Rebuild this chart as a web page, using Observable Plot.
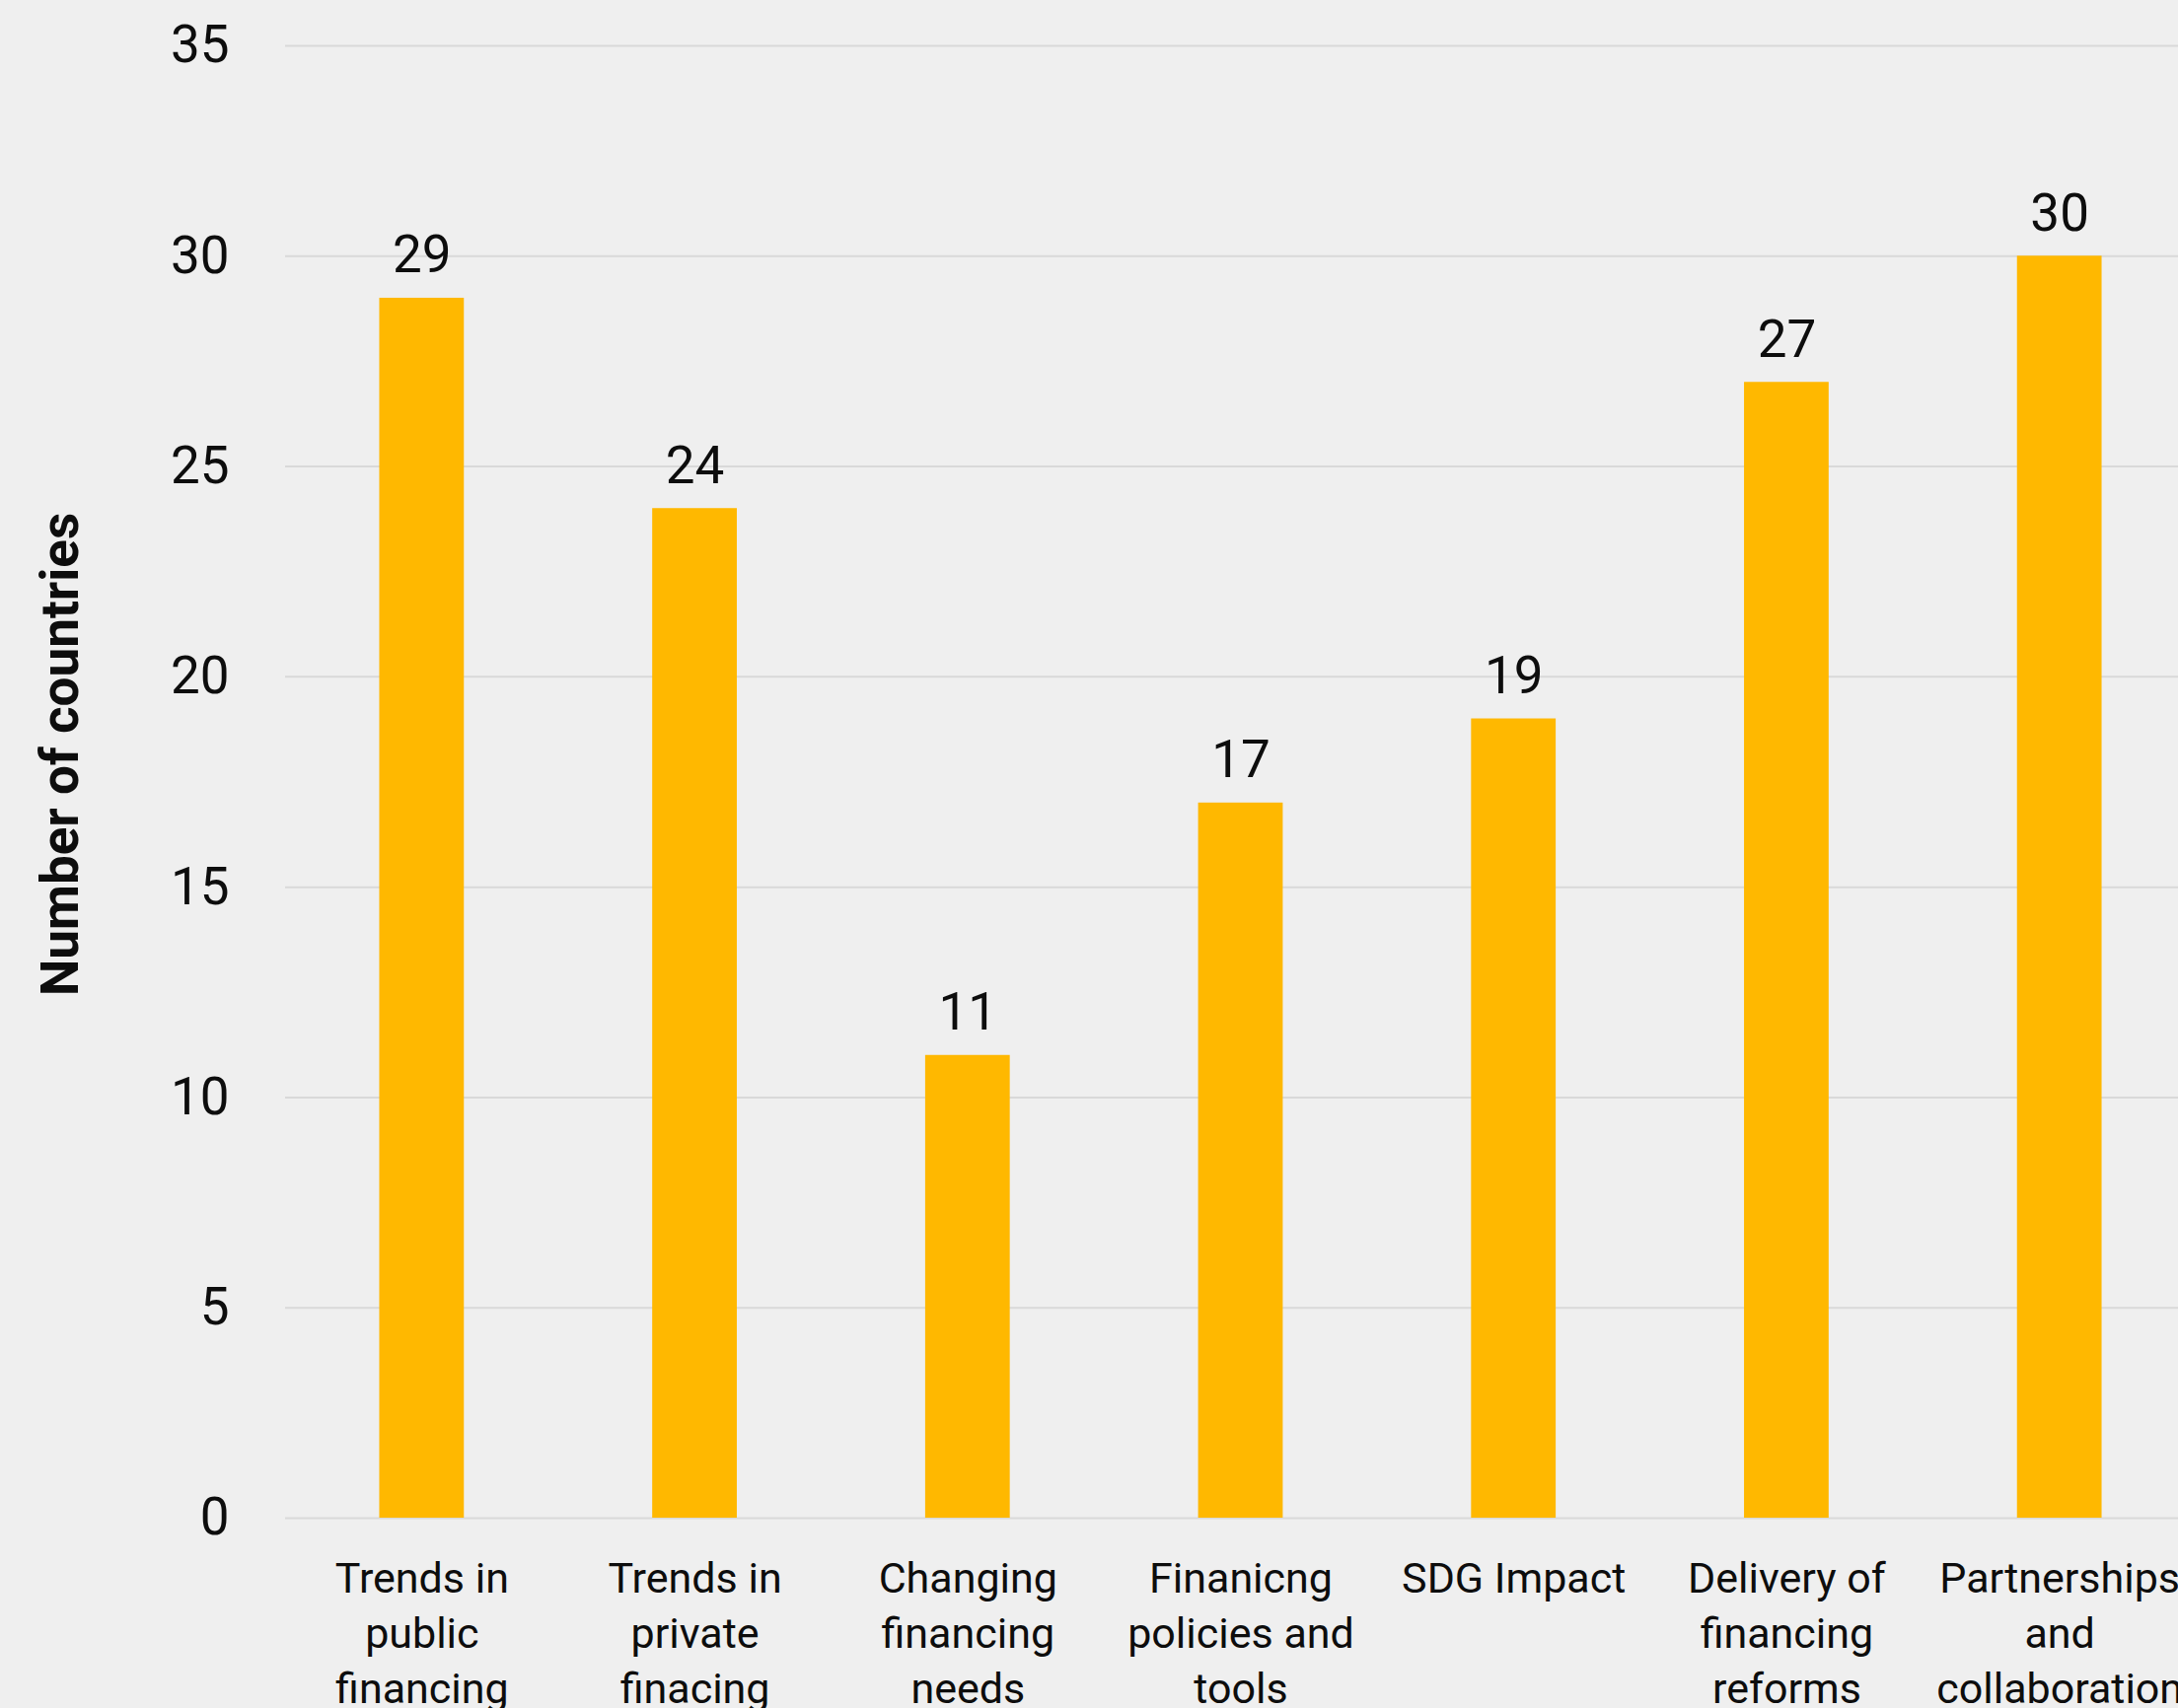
<!DOCTYPE html>
<html><head><meta charset="utf-8">
<script src="https://cdn.jsdelivr.net/npm/d3@7"></script>
<script src="https://cdn.jsdelivr.net/npm/@observablehq/plot@0.6"></script>
<style>
html,body{margin:0;padding:0;background:#efefef;overflow:hidden;width:2208px;height:1732px}
#chart svg{display:block;max-width:none !important}
</style></head><body><div id="chart"></div>
<script>
const categories = [
  "Trends in public financing",
  "Trends in private finacing",
  "Changing financing needs",
  "Finanicng policies and tools",
  "SDG Impact",
  "Delivery of financing reforms",
  "Partnerships and collaboration"
];
const tickLabels = [
  "Trends in\npublic\nfinancing",
  "Trends in\nprivate\nfinacing",
  "Changing\nfinancing\nneeds",
  "Finanicng\npolicies and\ntools",
  "SDG Impact",
  "Delivery of\nfinancing\nreforms",
  "Partnerships\nand\ncollaboration"
];
const values = [29, 24, 11, 17, 19, 27, 30];
const yTicks = [0, 5, 10, 15, 20, 25, 30, 35];
const yTitle = "Number of countries";

const data = categories.map((c, i) => ({category: c, value: values[i]}));
const labelOf = new Map(categories.map((c, i) => [c, tickLabels[i]]));
const ink = "#0d0d0d";

const chart = Plot.plot({
  width: 2226,
  height: 1800,
  marginLeft: 289,
  marginRight: 0,
  marginTop: 46,
  marginBottom: 261,
  style: {background: "#efefef", fontFamily: "Roboto, sans-serif", color: ink, maxWidth: "none"},
  x: {domain: categories, paddingInner: 0.69, paddingOuter: 0.345, round: false, axis: null},
  y: {domain: [0, 35], axis: null},
  marks: [
    Plot.ruleY(yTicks, {stroke: "#d9d9d9", strokeWidth: 2}),
    Plot.barY(data, {x: "category", y: "value", fill: "#FFB800"}),
    Plot.text(data, {x: "category", y: "value", text: d => String(d.value), lineAnchor: "bottom", dy: -26, fontSize: 53, fill: ink}),
    Plot.axisY({ticks: yTicks, tickSize: 0, tickPadding: 57, fontSize: 53, label: null, fill: ink}),
    Plot.axisX({tickSize: 0, tickPadding: 36, fontSize: 43, lineHeight: 1.3, tickFormat: c => labelOf.get(c), label: null, fill: ink}),
    Plot.text([yTitle], {text: d => d, frameAnchor: "left", rotate: -90, dx: -227, dy: -28, fontSize: 53, fontWeight: "bold", textAnchor: "middle", lineAnchor: "middle", fill: ink})
  ]
});
document.getElementById("chart").appendChild(chart);
</script>
</body></html>
